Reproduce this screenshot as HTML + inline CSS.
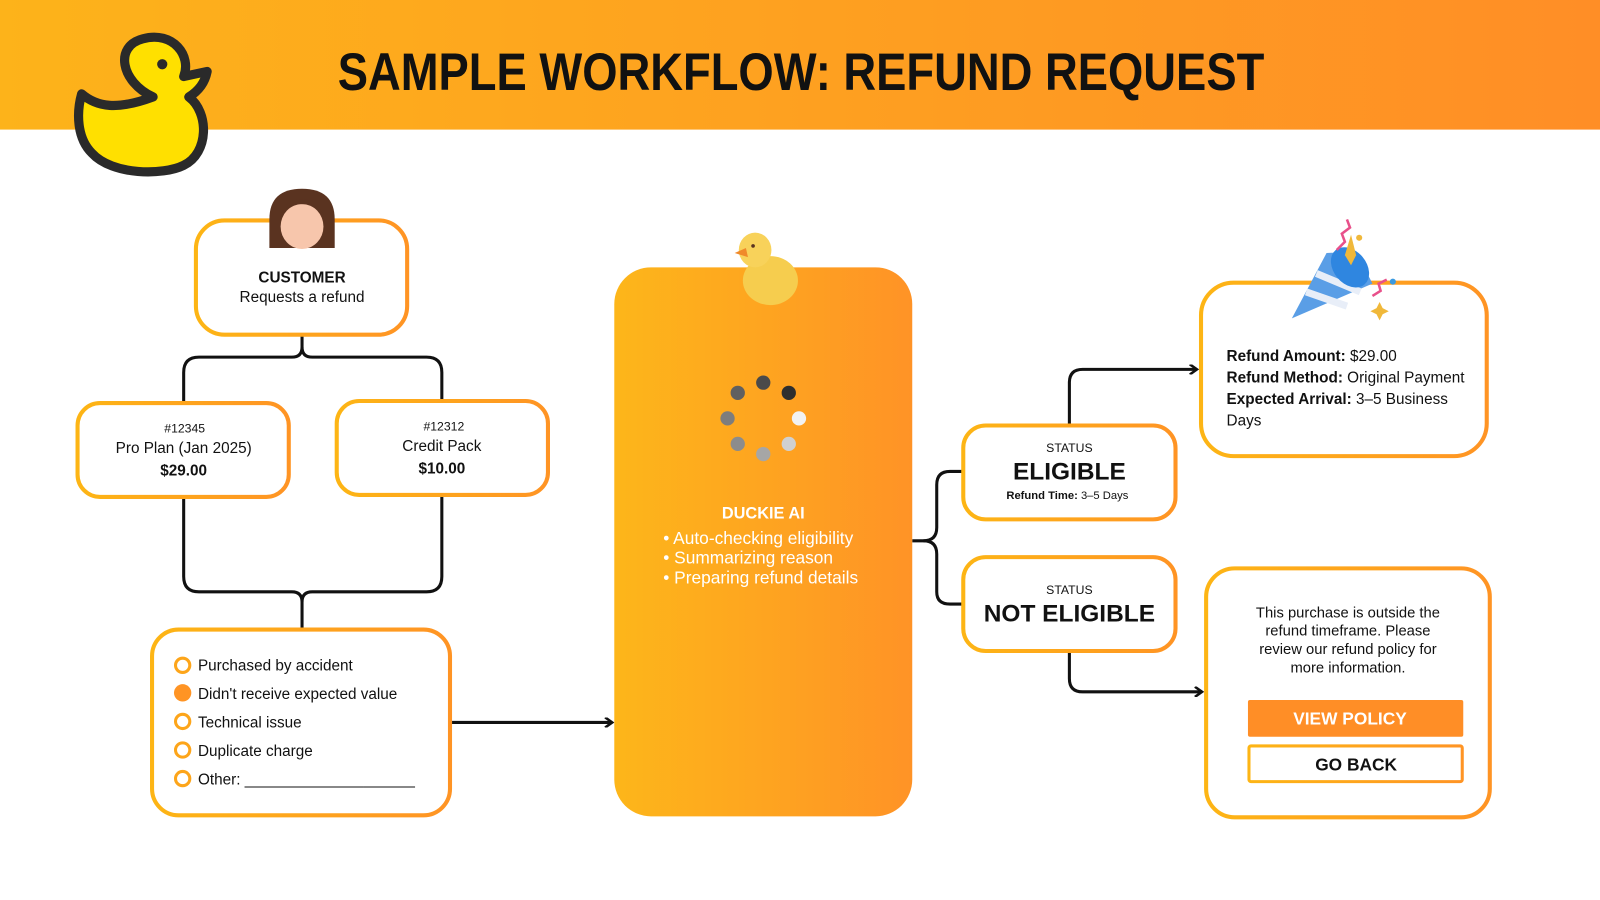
<!DOCTYPE html>
<html><head><meta charset="utf-8"><style>
html,body{margin:0;padding:0;width:1600px;height:900px;overflow:hidden;background:#fff}
svg{display:block}
text{font-family:"Liberation Sans",sans-serif}
</style></head><body>
<svg width="1600" height="900" viewBox="0 0 1568 882" preserveAspectRatio="none" xmlns="http://www.w3.org/2000/svg">
<defs>
<linearGradient id="hd" x1="0" x2="1" y1="0" y2="0"><stop offset="0" stop-color="#FDB31A"/><stop offset="1" stop-color="#FF8E26"/></linearGradient>
<linearGradient id="st" x1="0" x2="1" y1="0" y2="0"><stop offset="0" stop-color="#FDB515"/><stop offset="1" stop-color="#FF9424"/></linearGradient>
<linearGradient id="pn" x1="0" x2="1" y1="0" y2="0"><stop offset="0" stop-color="#FDB61A"/><stop offset="1" stop-color="#FF9326"/></linearGradient>
<marker id="ar" markerWidth="10" markerHeight="10" refX="8" refY="5" orient="auto" markerUnits="userSpaceOnUse"><path d="M1,0 L8,5 L1,10" fill="none" stroke="#111" stroke-width="2.5"/></marker>
</defs>
<rect x="0" y="0" width="1568" height="127" fill="url(#hd)"/>
<text x="785" y="88" font-size="52" font-weight="bold" text-anchor="middle" textLength="908" lengthAdjust="spacingAndGlyphs" fill="#111">SAMPLE WORKFLOW: REFUND REQUEST</text>
<!-- duck logo -->
<g stroke="#2a2a2a" stroke-width="9" stroke-linejoin="round" fill="#FFE000">
<path d="M150,95 C118,80 112,45 140,38 C170,30 188,55 180,75 L203,70 C200,85 190,92 185,95 C205,110 205,150 180,162 C160,172 110,172 90,150 C75,135 75,110 80,92 C95,105 115,108 150,95 Z"/>
</g>
<circle cx="159" cy="63" r="5" fill="#2a2a2a"/>
<!-- connectors -->
<g fill="none" stroke="#111" stroke-width="3">
<path d="M296,328 V340 Q296,350 286,350 H195 Q180,350 180,365 V395"/>
<path d="M296,340 Q296,350 306,350 H418 Q433,350 433,365 V393"/>
<path d="M180,487 V565 Q180,580 195,580 H286 Q296,580 296,590 V617"/>
<path d="M433,485 V565 Q433,580 418,580 H306 Q296,580 296,590"/>
<path d="M443,708 H600" marker-end="url(#ar)"/>
<path d="M894,530 H905 Q918,530 918,517 V475 Q918,462 931,462 H944"/>
<path d="M905,530 Q918,530 918,543 V580 Q918,592 931,592 H944"/>
<path d="M1048,417 V375 Q1048,362 1061,362 H1173" marker-end="url(#ar)"/>
<path d="M1048,638 V665 Q1048,678 1061,678 H1178" marker-end="url(#ar)"/>
</g>
<!-- boxes -->
<g fill="#fff" stroke="url(#st)" stroke-width="4">
<rect x="192" y="216" width="207" height="112" rx="28"/>
<rect x="76" y="395" width="207" height="92" rx="22"/>
<rect x="330" y="393" width="207" height="92" rx="22"/>
<rect x="149" y="617" width="292" height="182" rx="26"/>
<rect x="944" y="417" width="208" height="92" rx="22"/>
<rect x="944" y="546" width="208" height="92" rx="22"/>
<rect x="1177" y="277" width="280" height="170" rx="32"/>
<rect x="1182" y="557" width="278" height="244" rx="28"/>
</g>
<!-- avatar -->
<path d="M264,243 V215 Q264,185 296,185 Q328,185 328,215 V243 Z" fill="#5a3320"/>
<ellipse cx="296" cy="222" rx="21" ry="22" fill="#f7c6ac"/>
<path d="M275,210 Q285,192 296,196 Q307,192 317,210 Q310,198 296,200 Q282,198 275,210Z" fill="#5a3320"/>
<text x="296" y="277" font-size="15" font-weight="bold" text-anchor="middle" fill="#111">CUSTOMER</text>
<text x="296" y="296" font-size="15" text-anchor="middle" fill="#111">Requests a refund</text>
<text x="181" y="424" font-size="12" text-anchor="middle" fill="#111">#12345</text>
<text x="180" y="444" font-size="15" text-anchor="middle" fill="#111">Pro Plan (Jan 2025)</text>
<text x="180" y="466" font-size="15" font-weight="bold" text-anchor="middle" fill="#111">$29.00</text>
<text x="435" y="422" font-size="12" text-anchor="middle" fill="#111">#12312</text>
<text x="433" y="442" font-size="15" text-anchor="middle" fill="#111">Credit Pack</text>
<text x="433" y="464" font-size="15" font-weight="bold" text-anchor="middle" fill="#111">$10.00</text>
<!-- checklist -->
<g fill="none" stroke="#FDA51A" stroke-width="3">
<circle cx="179" cy="652" r="7"/><circle cx="179" cy="707" r="7"/><circle cx="179" cy="735" r="7"/><circle cx="179" cy="763" r="7"/>
</g>
<circle cx="179" cy="679" r="8.5" fill="#FF9424"/>
<g font-size="15" fill="#111">
<text x="194" y="657">Purchased by accident</text>
<text x="194" y="685">Didn't receive expected value</text>
<text x="194" y="713">Technical issue</text>
<text x="194" y="741">Duplicate charge</text>
<text x="194" y="769">Other: ____________________</text>
</g>
<!-- center panel -->
<rect x="602" y="262" width="292" height="538" rx="36" fill="url(#pn)"/>
<g>
<ellipse cx="755" cy="275" rx="27" ry="24" fill="#f6cd4e"/>
<ellipse cx="740" cy="245" rx="16" ry="17" fill="#f8d25a"/>
<path d="M720,248 L731,243 L733,252 Z" fill="#f08a2a"/>
<circle cx="738" cy="241" r="1.8" fill="#5a3320"/>
</g>
<circle cx="748" cy="375" r="7" fill="#4a4a4a"/>
<circle cx="773" cy="385" r="7" fill="#2e2e2e"/>
<circle cx="783" cy="410" r="7" fill="#f2f2f2"/>
<circle cx="773" cy="435" r="7" fill="#d0d0d0"/>
<circle cx="748" cy="445" r="7" fill="#a6a6a6"/>
<circle cx="723" cy="435" r="7" fill="#8c8c8c"/>
<circle cx="713" cy="410" r="7" fill="#7d7d7d"/>
<circle cx="723" cy="385" r="7" fill="#606060"/>
<text x="748" y="508" font-size="16" font-weight="bold" text-anchor="middle" fill="#fff">DUCKIE AI</text>
<g font-size="17" fill="#fff">
<text x="650" y="533">• Auto-checking eligibility</text>
<text x="650" y="552">• Summarizing reason</text>
<text x="650" y="572">• Preparing refund details</text>
</g>
<!-- status -->
<text x="1048" y="443" font-size="12" text-anchor="middle" fill="#111">STATUS</text>
<text x="1048" y="470" font-size="24" font-weight="bold" text-anchor="middle" fill="#111">ELIGIBLE</text>
<text x="1046" y="489" font-size="11" text-anchor="middle" fill="#111"><tspan font-weight="bold">Refund Time:</tspan> 3–5 Days</text>
<text x="1048" y="582" font-size="12" text-anchor="middle" fill="#111">STATUS</text>
<text x="1048" y="609" font-size="24" font-weight="bold" text-anchor="middle" fill="#111">NOT ELIGIBLE</text>
<!-- party popper -->
<g>
<path d="M1266,312 L1300,248 Q1330,245 1345,278 Z" fill="#5a9ee6"/>
<path d="M1280,286 L1320,300 M1290,268 L1333,286" stroke="#e8eef8" stroke-width="7"/>
<ellipse cx="1323" cy="262" rx="16" ry="22" transform="rotate(-40 1323 262)" fill="#2f86e0"/>
<path d="M1318,250 l6,-20 l5,20 l-5,10 Z" fill="#f0b83a"/>
<path d="M1310,245 l8,-8 l-3,-8 l8,-6 l-3,-8" stroke="#e8508a" stroke-width="2.5" fill="none"/>
<path d="M1345,290 l8,-5 l-2,-7 l8,-4" stroke="#e8508a" stroke-width="2.5" fill="none"/>
<path d="M1352,296 l3,6 l6,3 l-6,3 l-3,6 l-3,-6 l-6,-3 l6,-3Z" fill="#f0b83a"/>
<circle cx="1365" cy="276" r="3" fill="#3a9ae0"/><circle cx="1332" cy="233" r="3" fill="#f0b83a"/>
</g>
<g font-size="15" fill="#111">
<text x="1202" y="354"><tspan font-weight="bold">Refund Amount:</tspan> $29.00</text>
<text x="1202" y="375"><tspan font-weight="bold">Refund Method:</tspan> Original Payment</text>
<text x="1202" y="396"><tspan font-weight="bold">Expected Arrival:</tspan> 3–5 Business</text>
<text x="1202" y="417">Days</text>
</g>
<g font-size="14.5" fill="#111" text-anchor="middle">
<text x="1321" y="605">This purchase is outside the</text>
<text x="1321" y="623">refund timeframe. Please</text>
<text x="1321" y="641">review our refund policy for</text>
<text x="1321" y="659">more information.</text>
</g>
<rect x="1223" y="686" width="211" height="36" rx="2" fill="#FF8E26"/>
<text x="1323" y="710" font-size="17" font-weight="bold" text-anchor="middle" fill="#fff">VIEW POLICY</text>
<rect x="1224" y="731" width="209" height="35" rx="2" fill="#fff" stroke="url(#st)" stroke-width="3"/>
<text x="1329" y="755" font-size="17" font-weight="bold" text-anchor="middle" fill="#111">GO BACK</text>
</svg>
</body></html>
